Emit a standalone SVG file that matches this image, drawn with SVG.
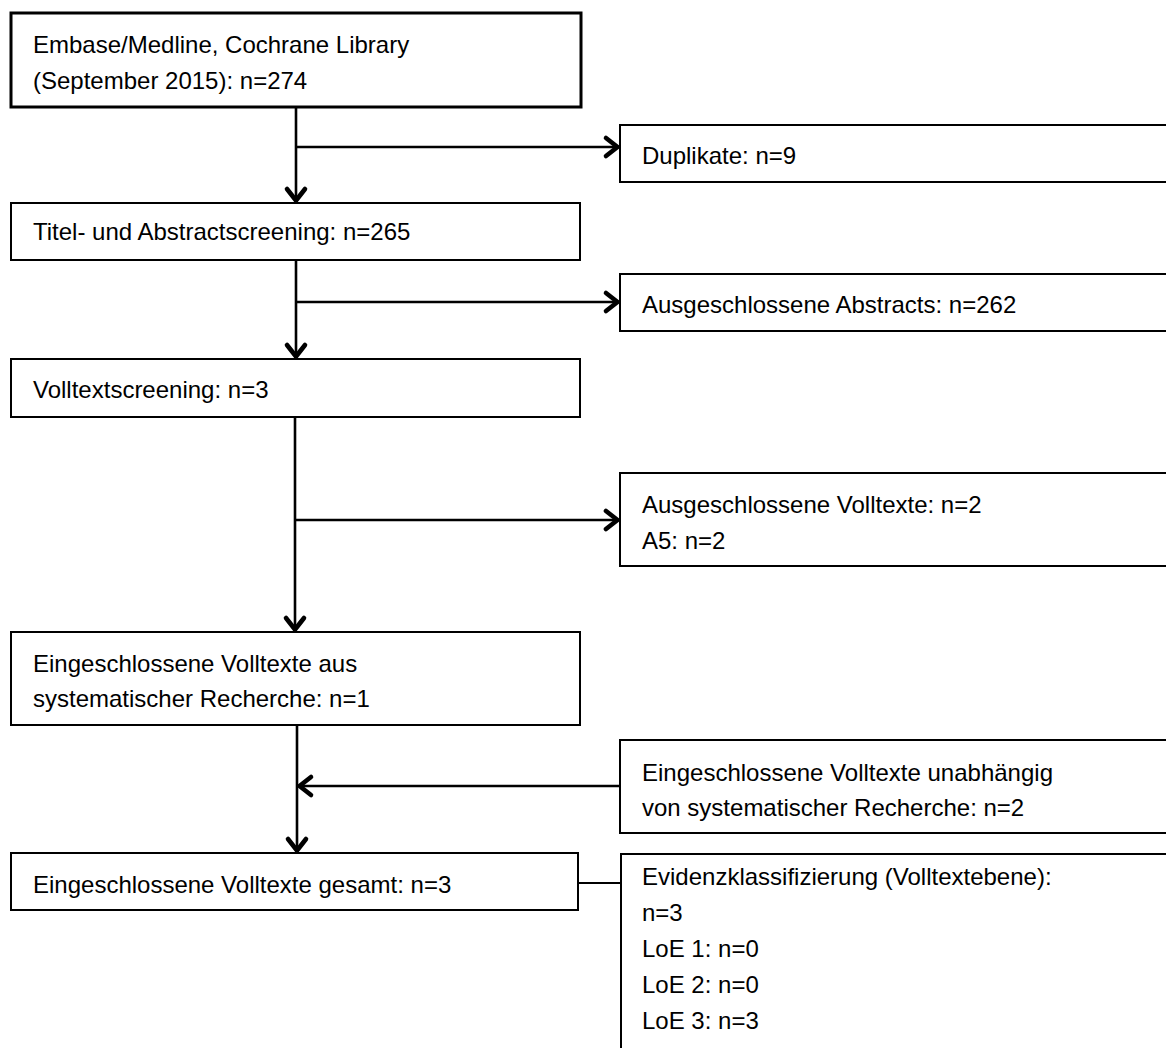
<svg xmlns="http://www.w3.org/2000/svg" width="1166" height="1048" viewBox="0 0 1166 1048">
<style>
.box{fill:#fff;stroke:#000;stroke-width:2}
.b1{stroke-width:3}
text{font-family:"Liberation Sans",Arial,sans-serif;font-size:24px;fill:#000}
.ln{fill:none;stroke:#000;stroke-width:2.6}
</style>
<defs>
<marker id="arr" markerUnits="userSpaceOnUse" viewBox="-20 -13 22 26" markerWidth="22" markerHeight="26" refX="0" refY="0" orient="auto">
<path d="M-13,-9 L-1.5,0 L-13,9" fill="none" stroke="#000" stroke-width="4.6" stroke-linecap="round" stroke-linejoin="round"/>
</marker>
</defs>
<rect width="1166" height="1048" fill="#fff"/>
<g id="connectors">
<path class="ln" d="M296,107 V202" marker-end="url(#arr)"/>
<path class="ln" d="M296,147 H619" marker-end="url(#arr)"/>
<path class="ln" d="M296,260 V358" marker-end="url(#arr)"/>
<path class="ln" d="M296,302 H619" marker-end="url(#arr)"/>
<path class="ln" d="M295,417 V631" marker-end="url(#arr)"/>
<path class="ln" d="M295,520 H619" marker-end="url(#arr)"/>
<path class="ln" d="M297,725 V852" marker-end="url(#arr)"/>
<path class="ln" d="M620,786 H298" marker-end="url(#arr)"/>
<path class="ln" d="M578,883 H621" style="stroke-width:2"/>
</g>
<g id="n1"><rect class="box b1" x="11" y="13" width="570" height="94"/>
<text x="33" y="53">Embase/Medline, Cochrane Library</text>
<text x="33" y="89">(September 2015): n=274</text></g>
<g id="n2"><rect class="box" x="620" y="125" width="560" height="57"/>
<text x="642" y="164">Duplikate: n=9</text></g>
<g id="n3"><rect class="box" x="11" y="203" width="569" height="57"/>
<text x="33" y="240">Titel- und Abstractscreening: n=265</text></g>
<g id="n4"><rect class="box" x="620" y="274" width="560" height="57"/>
<text x="642" y="313">Ausgeschlossene Abstracts: n=262</text></g>
<g id="n5"><rect class="box" x="11" y="359" width="569" height="58"/>
<text x="33" y="398">Volltextscreening: n=3</text></g>
<g id="n6"><rect class="box" x="620" y="473" width="560" height="93"/>
<text x="642" y="513">Ausgeschlossene Volltexte: n=2</text>
<text x="642" y="549">A5: n=2</text></g>
<g id="n7"><rect class="box" x="11" y="632" width="569" height="93"/>
<text x="33" y="672">Eingeschlossene Volltexte aus</text>
<text x="33" y="707">systematischer Recherche: n=1</text></g>
<g id="n8"><rect class="box" x="620" y="740" width="560" height="93"/>
<text x="642" y="781">Eingeschlossene Volltexte unabhängig</text>
<text x="642" y="816">von systematischer Recherche: n=2</text></g>
<g id="n9"><rect class="box" x="11" y="853" width="567" height="57"/>
<text x="33" y="893">Eingeschlossene Volltexte gesamt: n=3</text></g>
<g id="n10"><rect class="box" x="621" y="854" width="560" height="210"/>
<text x="642" y="885">Evidenzklassifizierung (Volltextebene):</text>
<text x="642" y="921">n=3</text>
<text x="642" y="957">LoE 1: n=0</text>
<text x="642" y="993">LoE 2: n=0</text>
<text x="642" y="1029">LoE 3: n=3</text></g>
</svg>
